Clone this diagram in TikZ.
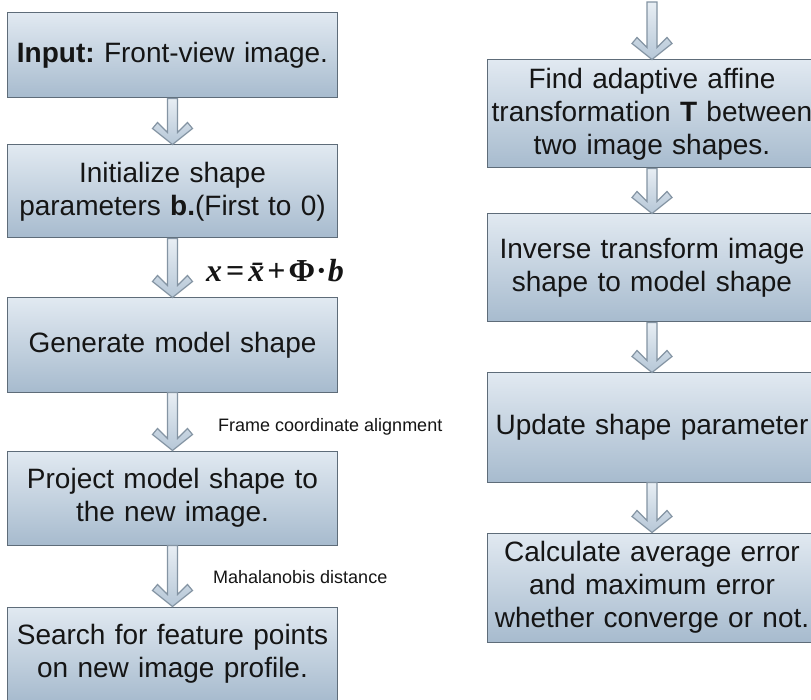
\documentclass[tikz,border=0pt]{standalone}
\usepackage{fontspec}
\setmainfont{Liberation Sans}
\newfontfamily\formulafont{Liberation Serif}
\usetikzlibrary{calc}
\frenchspacing

\definecolor{boxtop}{HTML}{E1E9F1}
\definecolor{boxbot}{HTML}{A7BBCE}
\definecolor{boxline}{HTML}{5E6C79}
\definecolor{arrtop}{HTML}{E8EEF4}
\definecolor{arrbot}{HTML}{B6C7D7}
\definecolor{arrline}{HTML}{8494A3}
\definecolor{inktext}{HTML}{151515}

\tikzset{
  stepbox/.style={rectangle, draw=boxline, line width=1pt,
    top color=boxtop, bottom color=boxbot,
    minimum width=330pt, text width=330pt, inner sep=0pt,
    align=center, text=inktext,
    font=\fontsize{28}{33}\selectfont},
  flowfill/.style={draw=arrline, line width=1.2pt, line join=miter,
    top color=arrtop, bottom color=arrbot},
  sidenote/.style={anchor=west, inner sep=0pt, text=inktext,
    font=\fontsize{18}{20}\selectfont}
}

% hollow block arrow from one anchor down to another
\newcommand\flowarrow[2]{%
  \path[flowfill] let \p1=(#1), \p2=(#2) in
    (\x1-5pt,\y1) -- (\x1-5pt,\y2+12pt) -- (\x1-15pt,\y2+22pt)
    -- (\x1-20pt,\y2+16pt) -- (\x1,\y2) -- (\x1+20pt,\y2+16pt)
    -- (\x1+15pt,\y2+22pt) -- (\x1+5pt,\y2+12pt) -- (\x1+5pt,\y1) -- cycle;}

\begin{document}
\begin{tikzpicture}[x=1pt,y=-1pt]
\useasboundingbox (0,0) rectangle (811,700);
\fill[white] (0,0) rectangle (811,700);

% left column
\node[stepbox, minimum height=85pt] (in)   at (172.5,55.5) {\textbf{Input:} Front-view image.};
\node[stepbox, minimum height=93pt] (init) at (172.5,191.5) {Initialize shape\\parameters \textbf{b.}(First to 0)};
\node[stepbox, minimum height=94pt] (gen)  at (172.5,345) {Generate model shape};
\node[stepbox, minimum height=94pt] (proj) at (172.5,498) {Project model shape to\\the new image.};
\node[stepbox, minimum height=94pt] (srch) at (172.5,654) {Search for feature points\\on new image profile.};

% right column
\coordinate (rtop) at (652,2);
\node[stepbox, minimum height=108pt] (aff)  at (652,114) {Find adaptive affine\\transformation \textbf{T} between\\two image shapes.};
\node[stepbox, minimum height=108pt] (inv)  at (652,268) {Inverse transform image\\shape to model shape};
\node[stepbox, minimum height=109pt] (upd)  at (652,427.5) {Update shape parameter};
\node[stepbox, minimum height=109pt] (calc) at (652,587.5) {Calculate average error\\and maximum error\\whether converge or not.};

% connectors
\flowarrow{in.south}{init.north}
\flowarrow{init.south}{gen.north}
\flowarrow{gen.south}{proj.north}
\flowarrow{proj.south}{srch.north}
\flowarrow{rtop}{aff.north}
\flowarrow{aff.south}{inv.north}
\flowarrow{inv.south}{upd.north}
\flowarrow{upd.south}{calc.north}

% annotations
\node[sidenote, font=\formulafont\bfseries\fontsize{32}{34}\selectfont] (eq) at (206,271)
  {\itshape x\kern4pt\upshape=\kern4pt\itshape\={x}\kern3pt\upshape+\kern3pt Φ\kern1pt·\kern1pt\itshape b};
\node[sidenote] (fca) at (218,427) {Frame coordinate alignment};
\node[sidenote] (mah) at (213,577) {Mahalanobis distance};
\end{tikzpicture}
\end{document}
